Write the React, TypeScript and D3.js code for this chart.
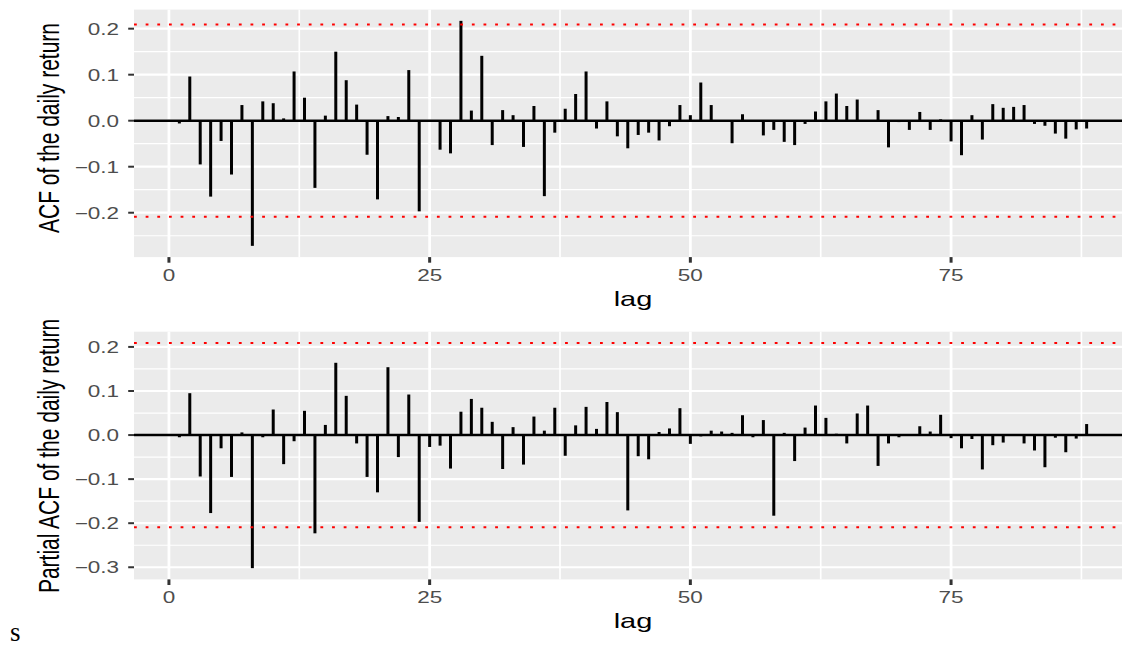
import React from 'react';
import * as d3 from 'd3';

// Lags shown on both correlograms
const lags = d3.range(1, 89);

// Sample autocorrelations of the daily return, lags 1..88
const acfValues = [
  -0.006, 0.096, -0.095, -0.165, -0.044, -0.117, 0.034, -0.272, 0.042, 0.038,
  0.005, 0.107, 0.050, -0.146, 0.011, 0.150, 0.088, 0.035, -0.074, -0.171,
  0.010, 0.008, 0.110, -0.197, 0.001, -0.063, -0.071, 0.217, 0.022, 0.141,
  -0.053, 0.023, 0.012, -0.057, 0.032, -0.164, -0.026, 0.026, 0.058, 0.107,
  -0.017, 0.042, -0.034, -0.060, -0.031, -0.026, -0.043, -0.012, 0.034, 0.012,
  0.083, 0.034, 0.001, -0.049, 0.014, -0.001, -0.032, -0.020, -0.046, -0.053,
  -0.007, 0.020, 0.042, 0.059, 0.032, 0.046, 0.001, 0.023, -0.058, -0.003,
  -0.020, 0.019, -0.020, 0.003, -0.045, -0.075, 0.012, -0.041, 0.036, 0.028,
  0.030, 0.034, -0.007, -0.011, -0.028, -0.039, -0.019, -0.017,
];

// Sample partial autocorrelations, lags 1..88
const pacfValues = [
  -0.005, 0.095, -0.094, -0.177, -0.030, -0.095, 0.006, -0.302, -0.005, 0.058,
  -0.066, -0.014, 0.055, -0.223, 0.023, 0.164, 0.089, -0.019, -0.095, -0.130,
  0.154, -0.050, 0.092, -0.197, -0.027, -0.024, -0.076, 0.053, 0.082, 0.062,
  0.030, -0.077, 0.018, -0.067, 0.042, 0.010, 0.062, -0.047, 0.022, 0.064,
  0.014, 0.075, 0.052, -0.171, -0.048, -0.055, 0.007, 0.015, 0.061, -0.020,
  -0.003, 0.010, 0.008, 0.005, 0.045, -0.005, 0.034, -0.183, 0.005, -0.059,
  0.017, 0.067, 0.039, 0.003, -0.019, 0.049, 0.067, -0.070, -0.019, -0.005,
  0.001, 0.020, 0.008, 0.046, -0.007, -0.030, -0.009, -0.078, -0.023, -0.017,
  0.001, -0.019, -0.035, -0.073, -0.006, -0.039, -0.008, 0.025,
];

// 95% band: 1.96 / sqrt(88)
const ciBound = 0.209;

const xTicks = [0, 25, 50, 75];
const xMinor = [12.5, 37.5, 62.5, 87.5];
const acfTicks = [-0.2, -0.1, 0, 0.1, 0.2];
const pacfTicks = [-0.3, -0.2, -0.1, 0, 0.1, 0.2];

const W = 1122;
const H = 646;
const PANEL_LEFT = 134;
const PANEL_RIGHT = 1132;
const STRETCH = 1.38;
const SANS = '"Liberation Sans", Arial, Helvetica, sans-serif';
const PANEL_BG = '#EBEBEB';

function expand([a, b]: number[]): [number, number] {
  const pad = (b - a) * 0.05;
  return [a - pad, b + pad];
}

function fmt(v: number): string {
  const s = Math.abs(v).toFixed(1);
  return v < 0 ? '\u2212' + s : s;
}

type PanelProps = {
  values: number[];
  ticks: number[];
  top: number;
  bottom: number;
  title: string;
  titleY: number;
};

function Panel({ values, ticks, top, bottom, title, titleY }: PanelProps) {
  const x = d3
    .scaleLinear()
    .domain(expand(d3.extent(lags) as number[]))
    .range([PANEL_LEFT, PANEL_RIGHT]);
  const lo = Math.min(d3.min(values) as number, -ciBound);
  const hi = Math.max(d3.max(values) as number, ciBound);
  const y = d3.scaleLinear().domain(expand([lo, hi])).range([bottom, top]);
  const [d0, d1] = y.domain();
  const [x0, x1] = x.domain();

  const step = ticks[1] - ticks[0];
  const minorY = d3
    .range(ticks.length + 1)
    .map((i) => ticks[0] - step / 2 + i * step)
    .filter((v) => v > d0 && v < d1);
  const minorX = xMinor.filter((v) => v > x0 && v < x1);

  return (
    <g>
      <rect x={PANEL_LEFT} y={top} width={PANEL_RIGHT - PANEL_LEFT} height={bottom - top} fill={PANEL_BG} />
      {/* minor grid */}
      {minorY.map((v) => (
        <line key={'my' + v} x1={PANEL_LEFT} x2={PANEL_RIGHT} y1={y(v)} y2={y(v)} stroke="#fff" strokeWidth={1.2} />
      ))}
      {minorX.map((v) => (
        <line key={'mx' + v} x1={x(v)} x2={x(v)} y1={top} y2={bottom} stroke="#fff" strokeWidth={1.7} />
      ))}
      {/* major grid */}
      {ticks.map((v) => (
        <line key={'gy' + v} x1={PANEL_LEFT} x2={PANEL_RIGHT} y1={y(v)} y2={y(v)} stroke="#fff" strokeWidth={2.2} />
      ))}
      {xTicks.map((v) => (
        <line key={'gx' + v} x1={x(v)} x2={x(v)} y1={top} y2={bottom} stroke="#fff" strokeWidth={2.8} />
      ))}
      {/* correlation spikes */}
      {lags.map((lag, i) => (
        <line key={'b' + lag} x1={x(lag)} x2={x(lag)} y1={y(0)} y2={y(values[i])} stroke="#000" strokeWidth={3} />
      ))}
      <line x1={PANEL_LEFT} x2={PANEL_RIGHT} y1={y(0)} y2={y(0)} stroke="#000" strokeWidth={2.6} />
      {/* confidence band */}
      {[ciBound, -ciBound].map((v) => (
        <line
          key={'ci' + v}
          x1={PANEL_LEFT}
          x2={PANEL_RIGHT}
          y1={y(v)}
          y2={y(v)}
          stroke="#FF0000"
          strokeWidth={2}
          strokeDasharray="2.8 8.85"
        />
      ))}
      {/* y axis */}
      {ticks.map((v) => (
        <g key={'ty' + v}>
          <line x1={PANEL_LEFT - 5.8} x2={PANEL_LEFT} y1={y(v)} y2={y(v)} stroke="#333" strokeWidth={2} />
          <text
            transform={`translate(119,${y(v) + 6.2}) scale(${STRETCH},1)`}
            textAnchor="end"
            fontFamily={SANS}
            fontSize={16.3}
            fill="#4D4D4D"
          >
            {fmt(v)}
          </text>
        </g>
      ))}
      {/* x axis */}
      {xTicks.map((v) => (
        <g key={'tx' + v}>
          <line x1={x(v)} x2={x(v)} y1={bottom} y2={bottom + 5.6} stroke="#333" strokeWidth={3} />
          <text
            transform={`translate(${x(v)},${bottom + 23.6}) scale(${STRETCH},1)`}
            textAnchor="middle"
            fontFamily={SANS}
            fontSize={16.3}
            fill="#4D4D4D"
          >
            {String(v)}
          </text>
        </g>
      ))}
      <text
        transform={`translate(${(PANEL_LEFT + PANEL_RIGHT) / 2},${bottom + 49}) scale(${STRETCH},1)`}
        textAnchor="middle"
        fontFamily={SANS}
        fontSize={21}
        fill="#000"
      >
        lag
      </text>
      <text
        transform={`translate(59.3,${titleY}) scale(${STRETCH},1) rotate(-90)`}
        textAnchor="middle"
        fontFamily={SANS}
        fontSize={21}
        fill="#000"
      >
        {title}
      </text>
    </g>
  );
}

export default function App() {
  return (
    <svg
      width={W}
      height={H}
      viewBox={`0 0 ${W} ${H}`}
      style={{ position: 'absolute', left: 0, top: 0, background: '#fff' }}
    >
      <rect x={0} y={0} width={W} height={H} fill="#fff" />
      <Panel values={acfValues} ticks={acfTicks} top={9.6} bottom={257.1} title="ACF of the daily return" titleY={128} />
      <Panel
        values={pacfValues}
        ticks={pacfTicks}
        top={331.7}
        bottom={579.4}
        title="Partial ACF of the daily return"
        titleY={456}
      />
      <text x={10} y={641} fontFamily='"Liberation Serif", "Times New Roman", serif' fontSize={27} fill="#000">
        s
      </text>
    </svg>
  );
}
